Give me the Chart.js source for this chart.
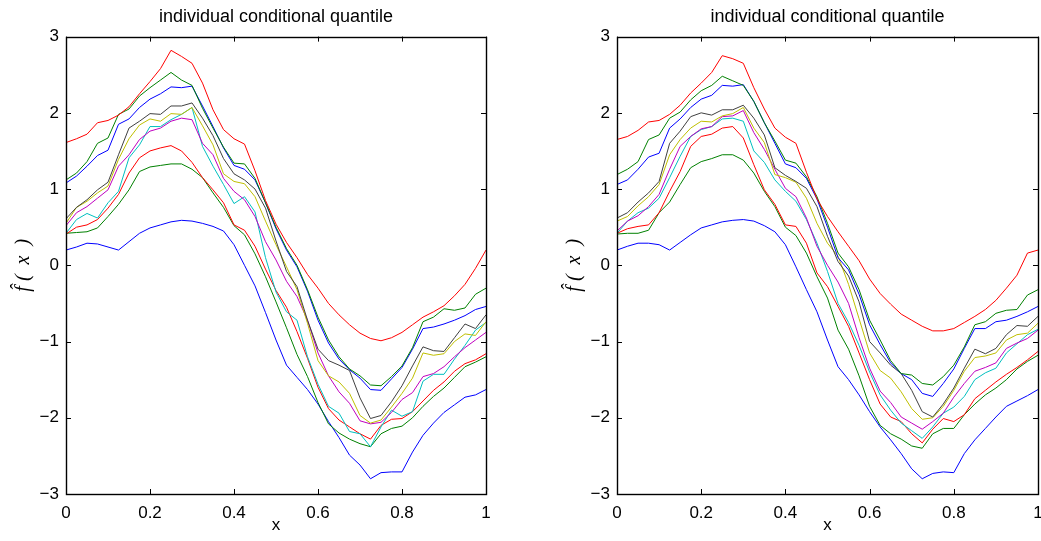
<!DOCTYPE html>
<html>
<head>
<meta charset="utf-8">
<title>individual conditional quantile</title>
<script src="https://cdn.jsdelivr.net/npm/chart.js@4.4.1/dist/chart.umd.min.js"></script>
<style>
  body { margin: 0; background: #ffffff; }
  #wrap { position: relative; width: 1041px; height: 541px; }
  canvas { position: absolute; top: 0; }
  #left-chart { left: 0; }
  #right-chart { left: 520px; }
</style>
</head>
<body>
<div id="wrap">
  <canvas id="left-chart" width="520" height="541"></canvas>
  <canvas id="right-chart" width="521" height="541"></canvas>
</div>
<script>
// x grid shared by every curve
const xValues = [0, 0.025, 0.05, 0.075, 0.1, 0.125, 0.15, 0.175, 0.2, 0.225, 0.25, 0.275, 0.3, 0.325, 0.35, 0.375, 0.4, 0.425, 0.45, 0.475, 0.5, 0.525, 0.55, 0.575, 0.6, 0.625, 0.65, 0.675, 0.7, 0.725, 0.75, 0.775, 0.8, 0.825, 0.85, 0.875, 0.9, 0.925, 0.95, 0.975, 1];

// left panel, quantile curves from lowest (q1) to highest (q10)
const leftQ1 = [0.20, 0.24, 0.29, 0.28, 0.24, 0.20, 0.31, 0.42, 0.49, 0.53, 0.57, 0.59, 0.58, 0.55, 0.51, 0.45, 0.27, 0.00, -0.27, -0.62, -0.98, -1.31, -1.47, -1.63, -1.82, -2.05, -2.26, -2.49, -2.62, -2.80, -2.72, -2.71, -2.71, -2.45, -2.23, -2.07, -1.93, -1.83, -1.73, -1.70, -1.63];
const leftQ2 = [0.42, 0.43, 0.44, 0.49, 0.64, 0.80, 0.99, 1.23, 1.29, 1.31, 1.33, 1.33, 1.26, 1.15, 0.95, 0.76, 0.52, 0.40, 0.15, -0.15, -0.48, -0.82, -1.17, -1.46, -1.80, -2.08, -2.20, -2.28, -2.34, -2.38, -2.21, -2.14, -2.11, -2.00, -1.85, -1.72, -1.61, -1.47, -1.33, -1.27, -1.20];
const leftQ3 = [0.41, 0.50, 0.53, 0.60, 0.75, 0.93, 1.21, 1.41, 1.50, 1.54, 1.57, 1.50, 1.35, 1.15, 0.99, 0.82, 0.53, 0.46, 0.25, -0.05, -0.33, -0.55, -0.87, -1.22, -1.60, -1.88, -2.03, -2.12, -2.21, -2.28, -2.10, -2.02, -2.01, -1.92, -1.78, -1.64, -1.53, -1.39, -1.29, -1.24, -1.16];
const leftQ4 = [0.42, 0.60, 0.68, 0.62, 0.82, 0.97, 1.41, 1.58, 1.82, 1.82, 1.91, 1.98, 2.07, 1.56, 1.30, 1.06, 0.81, 0.90, 0.70, 0.10, -0.35, -0.61, -0.72, -1.20, -1.56, -1.85, -1.94, -2.18, -2.21, -2.38, -2.12, -1.90, -1.98, -1.92, -1.52, -1.43, -1.43, -1.23, -1.05, -0.85, -0.75];
const leftQ5 = [0.52, 0.69, 0.77, 0.88, 0.99, 1.30, 1.45, 1.65, 1.76, 1.80, 1.89, 1.93, 1.91, 1.60, 1.45, 1.14, 0.97, 0.86, 0.64, 0.31, 0.07, -0.21, -0.41, -0.72, -1.15, -1.45, -1.66, -1.81, -2.04, -2.08, -2.06, -1.93, -1.76, -1.67, -1.46, -1.42, -1.33, -1.20, -1.08, -0.98, -0.88];
const leftQ6 = [0.55, 0.76, 0.84, 0.95, 1.04, 1.39, 1.66, 1.84, 1.92, 1.89, 1.99, 1.98, 2.07, 1.83, 1.58, 1.20, 1.10, 1.07, 0.90, 0.58, 0.27, -0.02, -0.32, -0.76, -1.25, -1.45, -1.53, -1.68, -1.97, -2.07, -2.03, -1.86, -1.68, -1.48, -1.15, -1.18, -1.16, -1.00, -0.90, -0.92, -0.74];
const leftQ7 = [0.61, 0.76, 0.86, 0.99, 1.09, 1.45, 1.80, 1.89, 1.99, 1.98, 2.09, 2.09, 2.13, 1.93, 1.70, 1.40, 1.20, 1.12, 1.00, 0.75, 0.32, -0.08, -0.28, -0.72, -1.10, -1.25, -1.31, -1.38, -1.74, -2.01, -1.97, -1.79, -1.58, -1.32, -1.07, -1.12, -1.13, -0.95, -0.77, -0.83, -0.65];
const leftQ8 = [1.08, 1.17, 1.30, 1.44, 1.51, 1.85, 1.92, 2.07, 2.18, 2.25, 2.34, 2.33, 2.35, 2.09, 1.82, 1.54, 1.31, 1.26, 1.12, 0.82, 0.48, 0.20, -0.02, -0.34, -0.72, -1.02, -1.23, -1.37, -1.48, -1.63, -1.64, -1.49, -1.34, -1.10, -0.83, -0.81, -0.77, -0.72, -0.66, -0.58, -0.54];
const leftQ9 = [1.12, 1.21, 1.36, 1.60, 1.67, 1.98, 2.05, 2.22, 2.33, 2.43, 2.53, 2.43, 2.36, 2.06, 1.80, 1.55, 1.34, 1.33, 1.14, 0.82, 0.50, 0.22, 0.00, -0.32, -0.68, -0.98, -1.20, -1.36, -1.45, -1.57, -1.58, -1.46, -1.32, -1.08, -0.74, -0.68, -0.57, -0.59, -0.56, -0.38, -0.30];
const leftQ10 = [1.61, 1.66, 1.72, 1.87, 1.90, 1.97, 2.08, 2.25, 2.41, 2.58, 2.82, 2.74, 2.65, 2.39, 2.04, 1.78, 1.66, 1.59, 1.24, 0.85, 0.54, 0.30, 0.10, -0.12, -0.30, -0.50, -0.65, -0.78, -0.89, -0.96, -0.99, -0.95, -0.88, -0.78, -0.68, -0.61, -0.53, -0.40, -0.25, -0.04, 0.20];

// right panel, same order
const rightQ1 = [0.20, 0.25, 0.29, 0.29, 0.27, 0.20, 0.30, 0.40, 0.49, 0.53, 0.57, 0.59, 0.60, 0.58, 0.52, 0.44, 0.27, -0.02, -0.32, -0.61, -0.98, -1.33, -1.50, -1.70, -1.92, -2.12, -2.29, -2.47, -2.67, -2.80, -2.73, -2.71, -2.72, -2.47, -2.29, -2.14, -1.99, -1.85, -1.78, -1.71, -1.63];
const rightQ2 = [0.41, 0.42, 0.42, 0.46, 0.69, 0.83, 1.06, 1.28, 1.36, 1.40, 1.45, 1.45, 1.38, 1.21, 0.97, 0.77, 0.50, 0.39, 0.16, -0.15, -0.43, -0.85, -1.10, -1.45, -1.85, -2.10, -2.21, -2.28, -2.37, -2.40, -2.21, -2.14, -2.14, -1.96, -1.82, -1.70, -1.61, -1.50, -1.36, -1.26, -1.18];
const rightQ3 = [0.42, 0.48, 0.51, 0.53, 0.69, 0.97, 1.23, 1.56, 1.69, 1.72, 1.80, 1.82, 1.67, 1.32, 0.99, 0.80, 0.53, 0.51, 0.29, -0.10, -0.28, -0.54, -0.80, -1.15, -1.50, -1.82, -1.99, -2.05, -2.21, -2.33, -2.15, -2.01, -2.05, -1.96, -1.75, -1.64, -1.53, -1.43, -1.34, -1.24, -1.13];
const rightQ4 = [0.42, 0.58, 0.69, 0.75, 0.88, 1.15, 1.43, 1.69, 1.78, 1.82, 1.92, 1.93, 1.89, 1.50, 1.35, 1.12, 0.97, 0.84, 0.60, 0.29, -0.08, -0.50, -0.75, -1.05, -1.40, -1.70, -1.90, -2.07, -2.17, -2.27, -2.12, -1.94, -1.86, -1.72, -1.50, -1.41, -1.35, -1.15, -1.03, -0.91, -0.84];
const rightQ5 = [0.45, 0.58, 0.65, 0.77, 0.93, 1.26, 1.56, 1.69, 1.79, 1.82, 1.95, 1.96, 2.03, 1.74, 1.52, 1.26, 1.01, 0.90, 0.62, 0.25, 0.00, -0.22, -0.50, -0.95, -1.35, -1.65, -1.80, -1.99, -2.07, -2.15, -2.05, -1.94, -1.73, -1.55, -1.39, -1.34, -1.28, -1.09, -1.02, -0.96, -0.85];
const rightQ6 = [0.58, 0.64, 0.78, 0.90, 1.06, 1.45, 1.65, 1.80, 1.89, 1.88, 1.96, 1.99, 2.07, 1.80, 1.61, 1.19, 1.15, 1.09, 0.88, 0.55, 0.29, 0.12, -0.25, -0.70, -1.15, -1.38, -1.48, -1.66, -1.88, -2.02, -2.00, -1.85, -1.64, -1.39, -1.21, -1.19, -1.15, -0.98, -0.91, -0.89, -0.76];
const rightQ7 = [0.62, 0.69, 0.83, 0.95, 1.10, 1.60, 1.76, 1.95, 2.00, 1.97, 2.04, 2.04, 2.10, 1.93, 1.71, 1.28, 1.18, 1.10, 1.01, 0.77, 0.38, 0.05, -0.14, -0.48, -1.00, -1.15, -1.31, -1.42, -1.64, -1.92, -1.99, -1.82, -1.61, -1.35, -1.10, -1.16, -1.09, -0.91, -0.79, -0.80, -0.67];
const rightQ8 = [1.06, 1.12, 1.26, 1.42, 1.47, 1.80, 1.92, 2.07, 2.18, 2.23, 2.36, 2.35, 2.37, 2.15, 1.87, 1.60, 1.33, 1.28, 1.14, 0.87, 0.50, 0.10, -0.06, -0.38, -0.78, -1.04, -1.28, -1.42, -1.50, -1.68, -1.72, -1.55, -1.36, -1.09, -0.83, -0.83, -0.74, -0.72, -0.67, -0.61, -0.54];
const rightQ9 = [1.19, 1.26, 1.36, 1.65, 1.71, 1.93, 2.01, 2.17, 2.29, 2.36, 2.48, 2.42, 2.36, 2.15, 1.87, 1.63, 1.38, 1.34, 1.16, 0.90, 0.55, 0.16, -0.02, -0.32, -0.72, -0.98, -1.25, -1.42, -1.44, -1.55, -1.57, -1.46, -1.31, -1.07, -0.78, -0.74, -0.63, -0.59, -0.58, -0.39, -0.32];
const rightQ10 = [1.65, 1.69, 1.77, 1.88, 1.90, 1.98, 2.10, 2.26, 2.39, 2.53, 2.75, 2.71, 2.65, 2.33, 2.05, 1.80, 1.68, 1.60, 1.22, 0.87, 0.64, 0.44, 0.25, 0.06, -0.18, -0.37, -0.51, -0.64, -0.72, -0.80, -0.86, -0.86, -0.83, -0.75, -0.67, -0.58, -0.46, -0.30, -0.13, 0.16, 0.20];

// matlab style colour cycle, q1..q10
const lineColours = ["#0000ff", "#008000", "#ff0000", "#00bfbf", "#bf00bf", "#bfbf00", "#404040", "#0000ff", "#008000", "#ff0000"];

const titleText = "individual conditional quantile";
const xTitle = "x";
const yTitle = "f\u0302 (  x  )";
const yTicks = [-3, -2, -1, 0, 1, 2, 3];

// draws the box and the inward tick marks
const frameTicks = {
  id: "frameTicks",
  afterDraw(chart) {
    const ctx = chart.ctx;
    const area = chart.chartArea;
    const xs = chart.scales.x;
    const ys = chart.scales.y;
    const len = 5;
    ctx.save();
    ctx.strokeStyle = "#000000";
    ctx.lineWidth = 1;
    ctx.beginPath();
    xs.ticks.forEach((t) => {
      const px = Math.round(xs.getPixelForValue(t.value)) + 0.5;
      ctx.moveTo(px, area.bottom);
      ctx.lineTo(px, area.bottom - len);
      ctx.moveTo(px, area.top);
      ctx.lineTo(px, area.top + len);
    });
    ys.ticks.forEach((t) => {
      const py = Math.round(ys.getPixelForValue(t.value)) + 0.5;
      ctx.moveTo(area.left, py);
      ctx.lineTo(area.left + len, py);
      ctx.moveTo(area.right, py);
      ctx.lineTo(area.right - len, py);
    });
    ctx.stroke();
    ctx.lineWidth = 1.4;
    ctx.strokeRect(Math.round(area.left) + 0.5, Math.round(area.top) + 0.5, Math.round(area.right - area.left), Math.round(area.bottom - area.top));
    ctx.restore();
  },
};

function makeDatasets(series) {
  let result = [];
  // highest quantile first so it ends up drawn on top
  for (let i = series.length - 1; i >= 0; i--) {
    result.push({
      label: "q" + (i + 1),
      data: xValues.map((x, j) => ({ x: x, y: series[i][j] })),
      borderColor: lineColours[i],
      borderWidth: 1,
      pointRadius: 0,
      tension: 0,
      fill: false,
    });
  }
  return result;
}

function createChart(canvasid, series, padLeft, padRight) {
  const tickFont = { family: "'Liberation Sans', Arial, sans-serif", size: 17 };
  const config = {
    type: "line",
    data: { datasets: makeDatasets(series) },
    options: {
      responsive: false,
      animation: false,
      devicePixelRatio: 1,
      layout: { padding: { left: padLeft, right: padRight, top: 0, bottom: 0 } },
      plugins: {
        legend: { display: false },
        tooltip: { enabled: false },
        title: {
          display: true,
          text: titleText,
          fullSize: false,
          color: "#000000",
          font: { family: "'Liberation Sans', Arial, sans-serif", size: 18, weight: "normal" },
          padding: { top: 6, bottom: 9 },
        },
      },
      scales: {
        x: {
          type: "linear",
          min: 0,
          max: 1,
          grid: { display: false, drawTicks: false },
          border: { display: false },
          ticks: {
            stepSize: 0.2,
            color: "#000000",
            font: tickFont,
            padding: 9,
            maxRotation: 0,
            callback: (v) => String(Math.round(v * 10) / 10),
          },
          title: {
            display: true,
            text: xTitle,
            color: "#000000",
            font: tickFont,
            padding: { top: 0, bottom: 5 },
          },
          afterFit: (scale) => {
            scale.height = 47;
            scale.paddingLeft = 0;
            scale.paddingRight = 0;
          },
        },
        y: {
          type: "linear",
          min: -3,
          max: 3,
          grid: { display: false, drawTicks: false },
          border: { display: false },
          afterBuildTicks: (scale) => {
            scale.ticks = yTicks.map((v) => ({ value: v }));
          },
          ticks: {
            color: "#000000",
            font: tickFont,
            padding: 7,
            callback: (v) => (v < 0 ? "\u2212" + Math.abs(v) : String(v)),
          },
          title: {
            display: true,
            text: yTitle,
            color: "#000000",
            font: { family: "'Liberation Serif', 'DejaVu Serif', serif", size: 20, style: "italic" },
            padding: { top: 12, bottom: 0 },
          },
          afterFit: (scale) => {
            scale.width = 66;
            scale.paddingTop = 0;
            scale.paddingBottom = 0;
          },
        },
      },
    },
    plugins: [frameTicks],
  };
  return new Chart(document.getElementById(canvasid), config);
}

const leftChart = createChart("left-chart", [leftQ1, leftQ2, leftQ3, leftQ4, leftQ5, leftQ6, leftQ7, leftQ8, leftQ9, leftQ10], 0, 34);
const rightChart = createChart("right-chart", [rightQ1, rightQ2, rightQ3, rightQ4, rightQ5, rightQ6, rightQ7, rightQ8, rightQ9, rightQ10], 31, 3);
</script>
</body>
</html>
